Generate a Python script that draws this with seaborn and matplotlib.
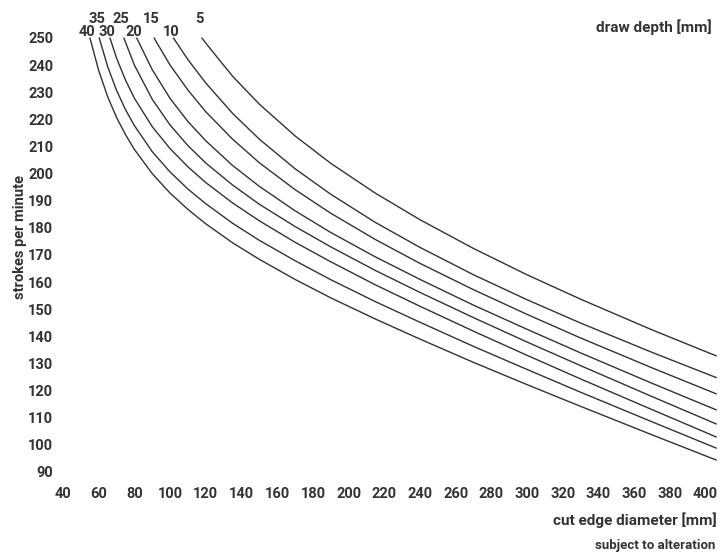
import pandas as pd
import matplotlib.pyplot as plt
import seaborn as sns

# draw depth [mm] -> (cut edge diameter [mm], strokes per minute)
depths = [5, 10, 15, 20, 25, 30, 35, 40]

d5_x = [117.8, 120, 135, 150, 170, 190, 215, 240, 270, 300, 330, 370, 406]
d5_y = [250, 248.1, 235.9, 225.6, 213.9, 203.8, 192.8, 183.0, 172.4, 162.7, 153.7, 142.4, 132.8]

d10_x = [101.9, 110, 120, 135, 150, 170, 190, 215, 240, 270, 300, 330, 370, 406]
d10_y = [250, 242.0, 233.4, 222.2, 212.7, 201.8, 192.4, 182.0, 172.8, 162.7, 153.5, 144.9, 134.1, 124.8]

d15_x = [91, 100, 110, 120, 135, 150, 170, 190, 215, 240, 270, 300, 330, 370, 406]
d15_y = [250, 240.0, 230.8, 222.8, 212.7, 204.0, 194.1, 185.4, 175.7, 166.9, 157.2, 148.1, 139.4, 128.4, 118.8]

d20_x = [81.3, 90, 100, 110, 120, 135, 150, 170, 190, 215, 240, 270, 300, 330, 370, 406]
d20_y = [250, 238.3, 227.7, 219.2, 212.1, 203.0, 195.3, 186.3, 178.3, 169.3, 161.0, 151.5, 142.6, 133.9, 122.7, 112.9]

d25_x = [74.1, 80, 90, 100, 110, 120, 135, 150, 170, 190, 215, 240, 270, 300, 330, 370, 406]
d25_y = [250, 240.0, 227.4, 217.9, 210.3, 203.9, 195.8, 188.7, 180.5, 173.0, 164.3, 156.2, 146.9, 137.9, 129.2, 117.8, 107.7]

d30_x = [66.3, 70, 75, 80, 90, 100, 110, 120, 135, 150, 170, 190, 215, 240, 270, 300, 330, 370, 406]
d30_y = [250, 242.6, 234.5, 227.8, 217.3, 209.2, 202.5, 196.7, 189.2, 182.6, 174.7, 167.5, 159.0, 151.1, 141.9, 133.0, 124.3, 113.0, 102.9]

d35_x = [60.3, 65, 70, 75, 80, 90, 100, 110, 120, 135, 150, 170, 190, 215, 240, 270, 300, 330, 370, 406]
d35_y = [250, 239.5, 230.7, 223.6, 217.7, 208.1, 200.6, 194.3, 188.9, 181.7, 175.4, 167.9, 160.9, 152.8, 145.2, 136.3, 127.8, 119.4, 108.5, 98.8]

d40_x = [55.1, 60, 65, 70, 75, 80, 90, 100, 110, 120, 135, 150, 170, 190, 215, 240, 270, 300, 330, 370, 406]
d40_y = [250, 238.0, 228.4, 220.7, 214.4, 208.9, 200.0, 192.8, 186.8, 181.5, 174.5, 168.4, 161.0, 154.2, 146.4, 139.0, 130.4, 122.2, 114.2, 103.7, 94.4]

x_ticks = list(range(40, 401, 20))
y_ticks = list(range(90, 251, 10))

series_x = [d5_x, d10_x, d15_x, d20_x, d25_x, d30_x, d35_x, d40_x]
series_y = [d5_y, d10_y, d15_y, d20_y, d25_y, d30_y, d35_y, d40_y]

rows = []
for dep, xs, ys in zip(depths, series_x, series_y):
    for xv, yv in zip(xs, ys):
        rows.append({'depth': dep, 'diameter': xv, 'spm': yv})
df = pd.DataFrame(rows)

sns.set_style('white')
plt.rcParams['font.family'] = ['Roboto', 'DejaVu Sans']
ink = '#333333'

fig = plt.figure(figsize=(7.23, 5.52), dpi=100)
W, H = 723, 552
# axes placed in pixels: x 40 -> 63px, 1.785 px per mm; y 250 -> 38px, 2.7125 px per stroke
x0, x1 = 40, 408
y0, y1 = 88, 252
px_x, px_y = 1.785, 2.7125
left = 63
top = 38 - (y1 - 250) * px_y
ax = fig.add_axes([left / W, 1 - (top + (y1 - y0) * px_y) / H,
                   (x1 - x0) * px_x / W, (y1 - y0) * px_y / H])

sns.lineplot(data=df, x='diameter', y='spm', units='depth', estimator=None,
             color=ink, linewidth=1.0, ax=ax, legend=False)

ax.set_xlim(x0, x1)
ax.set_ylim(y0, y1)
ax.set_xticks(x_ticks)
ax.set_yticks(y_ticks)
ax.tick_params(length=0, labelsize=10.5, colors=ink, pad=7)
for lab in ax.get_xticklabels() + ax.get_yticklabels():
    lab.set_fontweight('bold')
sns.despine(ax=ax, left=True, bottom=True)
ax.set_xlabel('')
ax.set_ylabel('')
for line in ax.lines:
    line.set_clip_on(False)

# depth labels above the curve starts, two staggered rows
for i, (dep, xs) in enumerate(zip(depths, series_x)):
    yy = 257.0 if i % 2 == 0 else 252.3
    ax.text(xs[0] - 1.5, yy, str(dep), ha='center', va='center', fontsize=10.5,
            fontweight='bold', color=ink, clip_on=False)

fig.text(712 / W, 1 - 27 / H, 'draw depth [mm]', ha='right', va='center',
         fontsize=11, fontweight='bold', color=ink)
fig.text(717 / W, 1 - 520 / H, 'cut edge diameter [mm]', ha='right', va='center',
         fontsize=11, fontweight='bold', color=ink)
fig.text(715 / W, 1 - 545 / H, 'subject to alteration', ha='right', va='center',
         fontsize=9.5, fontweight='bold', color=ink)
fig.text(20 / W, 1 - 237 / H, 'strokes per minute', ha='center', va='center',
         rotation=90, fontsize=10.5, fontweight='bold', color=ink)

fig.savefig('out.png', dpi=100, facecolor='white')
